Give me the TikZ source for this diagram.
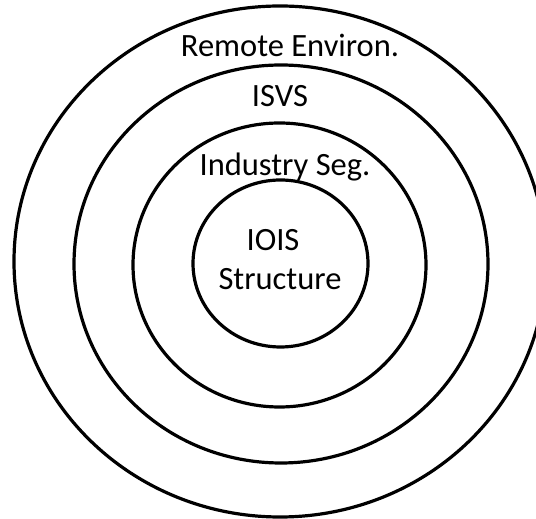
\documentclass[tikz,border=0pt]{standalone}
\usepackage{fontspec}
\setmainfont{Carlito}
\begin{document}
\begin{tikzpicture}[x=1pt,y=1pt,
  ring/.style={draw=black,line width=3.2pt},
  lbl/.style={anchor=base,inner sep=0pt,font=\fontsize{32.5}{39}\selectfont}]
\useasboundingbox (0,0) rectangle (536,519);
\clip (0,0) rectangle (536,519);
\fill[white] (0,0) rectangle (536,519);
% rings (y measured from top: tikz y = 519 - y)
\draw[ring] (280,257.5) ellipse [x radius=266, y radius=255.5];
\draw[ring] (281,255) ellipse [x radius=207, y radius=199];
\draw[ring] (279.5,254) ellipse [x radius=146.5, y radius=142];
\draw[ring] (280.5,255.5) ellipse [x radius=87.5, y radius=83.5];
% labels
\node[lbl] (remote) at (290,462) {Remote Environ.};
\node[lbl] (isvs) at (280,412) {ISVS};
\node[lbl] (indseg) at (285,343) {Industry Seg.};
\node[lbl] (iois) at (273,268) {IOIS};
\node[lbl] (struct) at (280,229) {Structure};
\end{tikzpicture}
\end{document}
